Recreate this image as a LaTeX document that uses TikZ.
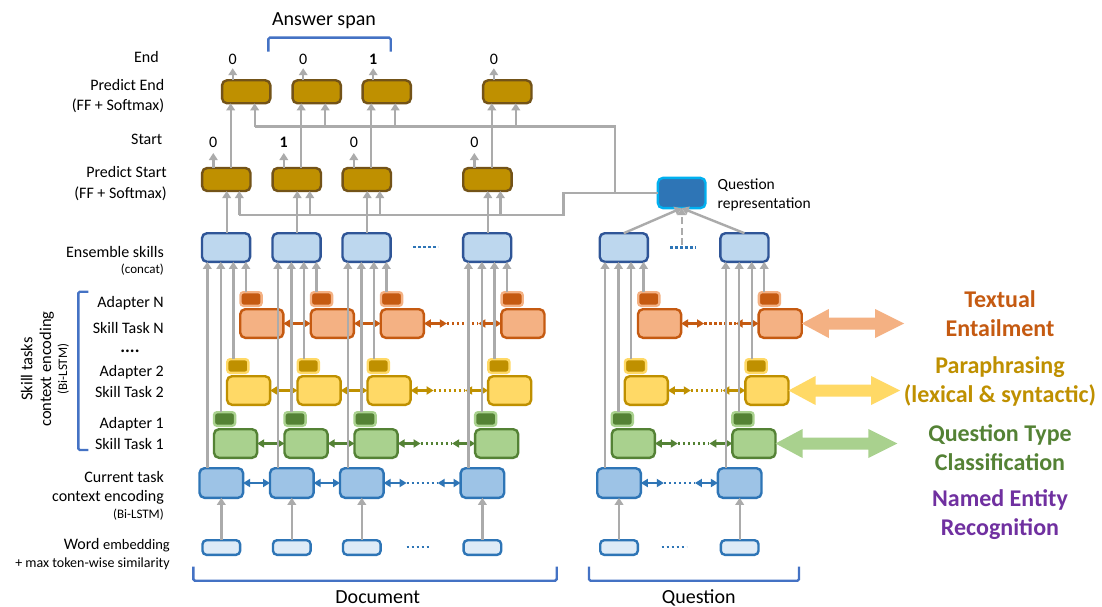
\documentclass[tikz,border=0pt]{standalone}
\usepackage{fontspec}
\setmainfont{Carlito}
\usetikzlibrary{arrows.meta,calc}

\definecolor{lineg}{HTML}{ABABAB}
\definecolor{curF}{HTML}{9DC3E6}
\definecolor{curD}{HTML}{2E75B6}
\definecolor{ensF}{HTML}{BDD7EE}
\definecolor{ensD}{HTML}{2F5597}
\definecolor{embF}{HTML}{DEEBF7}
\definecolor{grnF}{HTML}{A9D18E}
\definecolor{grnD}{HTML}{548235}
\definecolor{yelF}{HTML}{FFD966}
\definecolor{yelD}{HTML}{BF9000}
\definecolor{orgF}{HTML}{F4B183}
\definecolor{orgD}{HTML}{C55A11}
\definecolor{prdD}{HTML}{735318}
\definecolor{qrepD}{HTML}{00B0F0}
\definecolor{brkC}{HTML}{4472C4}
\definecolor{purp}{HTML}{7030A0}

\newcommand{\fsz}[2]{\fontsize{#1}{#2}\selectfont}

\begin{document}
\begin{tikzpicture}[x=1pt,y=-1pt,
  cell/.style={draw, rounded corners=5pt, line width=2.4pt, inner sep=0pt, outer sep=0pt},
  curbox/.style={cell, fill=curF, draw=curD, minimum width=43.6pt, minimum height=29.6pt},
  embbox/.style={cell, rounded corners=4pt, fill=embF, draw=curD, minimum width=37.6pt, minimum height=14.6pt},
  grnbox/.style={cell, fill=grnF, draw=grnD, minimum width=43.1pt, minimum height=28.6pt},
  grnad/.style={cell, rounded corners=3pt, fill=grnD, draw=grnF, minimum width=21.1pt, minimum height=13.6pt},
  yelbox/.style={cell, fill=yelF, draw=yelD, minimum width=43.1pt, minimum height=28.6pt},
  yelad/.style={cell, rounded corners=3pt, fill=yelD, draw=yelF, minimum width=21.1pt, minimum height=13.6pt},
  orgbox/.style={cell, fill=orgF, draw=orgD, minimum width=43.1pt, minimum height=28.6pt},
  orgad/.style={cell, rounded corners=3pt, fill=orgD, draw=orgF, minimum width=21.1pt, minimum height=13.6pt},
  ensbox/.style={cell, fill=ensF, draw=ensD, minimum width=48.1pt, minimum height=28.6pt},
  prdbox/.style={cell, fill=yelD, draw=prdD, minimum width=48.3pt, minimum height=23pt},
  qrepbox/.style={cell, fill=curD, draw=qrepD, minimum width=47.6pt, minimum height=30.2pt},
  gline/.style={draw=lineg, line width=2.4pt},
  garr/.style={gline, -{Triangle[length=7pt,width=8.5pt]}},
  darr/.style={line width=2.3pt, {Triangle[length=7pt,width=8pt]}-{Triangle[length=7pt,width=8pt]}},
  dotl/.style={line width=2.3pt, dash pattern=on 2.5pt off 2.5pt},
  bdots/.style={draw=curD, line width=2.4pt, dash pattern=on 2.6pt off 2.4pt},
  bracket/.style={draw=brkC, line width=2.4pt, rounded corners=1.5pt},
  digit/.style={font=\fsz{16}{19}, inner sep=0pt},
  lbl/.style={anchor=east, font=\fsz{16}{19}, inner sep=0pt},
  small/.style={anchor=east, font=\fsz{13}{15}, inner sep=0pt},
  task/.style={font=\fsz{24}{29}\bfseries, align=center, inner sep=0pt},
]
\fill[white] (0,0) rectangle (1102,607);
\useasboundingbox (0,0) rectangle (1102,607);

% ---------- token columns (document d1..d4, question q1..q2) ----------
\foreach \n/\B in {d1/198.3,d2/268.8,d3/338.8,d4/459.4,q1/596,q2/716.7}{
  \node[embbox] (emb-\n) at (\B+23,547.5) {};
  \node[curbox] (cur-\n) at (\B+23,483) {};
  \node[grnbox] (grn-\n) at (\B+37.25,443.5) {};
  \node[grnad]  (grnA-\n) at (\B+26.25,419) {};
  \node[yelbox] (yel-\n) at (\B+50.25,390.5) {};
  \node[yelad]  (yelA-\n) at (\B+39.5,366) {};
  \node[orgbox] (org-\n) at (\B+63.5,323.5) {};
  \node[orgad]  (orgA-\n) at (\B+52.75,299) {};
  \node[ensbox] (ens-\n) at (\B+27.75,247.5) {};
  \coordinate (la-\n) at (\B+9,0);
  \coordinate (lb-\n) at (\B+22.5,0);
  \coordinate (lc-\n) at (\B+35,0);
  \coordinate (ld-\n) at (\B+47.5,0);
}

% ---------- bidirectional links along each encoding row ----------
\foreach \r/\c in {cur/curD,grn/grnD,yel/yelD,org/orgD}{
  \draw[darr,draw=\c] (\r-d1.east) -- (\r-d2.west);
  \draw[darr,draw=\c] (\r-d2.east) -- (\r-d3.west);
  \draw[darr,draw=\c] (\r-d3.east) -- ++(23,0) coordinate (\r-da);
  \draw[darr,draw=\c] ($(\r-d4.west)+(-23,0)$) coordinate (\r-db) -- (\r-d4.west);
  \draw[dotl,draw=\c] (\r-da) -- (\r-db);
  \draw[darr,draw=\c] (\r-q1.east) -- ++(23,0) coordinate (\r-qa);
  \draw[darr,draw=\c] ($(\r-q2.west)+(-23,0)$) coordinate (\r-qb) -- (\r-q2.west);
  \draw[dotl,draw=\c] (\r-qa) -- (\r-qb);
}

% ---------- skill outputs gathered by the ensemble ----------
\foreach \n in {d1,d2,d3,d4,q1,q2}{
  \draw[garr] (emb-\n.north) -- (cur-\n.south);
  \draw[garr] (cur-\n.north -| la-\n) -- (ens-\n.south -| la-\n);
  \draw[garr] (grnA-\n.north -| lb-\n) -- (ens-\n.south -| lb-\n);
  \draw[garr] (yelA-\n.north -| lc-\n) -- (ens-\n.south -| lc-\n);
  \draw[garr] (orgA-\n.north -| ld-\n) -- (ens-\n.south -| ld-\n);
}

% ellipses between columns
\draw[bdots] (413,247) -- (438,247);
\draw[bdots] (670,247.3) -- (696,247.3);
\draw[bdots] (406.7,546.7) -- (430.7,546.7);
\draw[bdots] (661.7,546.7) -- (686.7,546.7);

% ---------- question representation ----------
\node[qrepbox] (qrep) at (681.7,193) {};
\node[anchor=west, align=left, font=\fsz{15.5}{19.3}, inner sep=0pt] (qrepl) at (717.5,194.7) {Question\\representation};
\coordinate (qdots) at (681.7,245);
\draw[garr] (ens-q1.north) -- (qrep.south);
\draw[garr] (ens-q2.north) -- (qrep.south);
\draw[garr, dash pattern=on 7pt off 3.5pt] (qdots) -- (qrep.south);

% ---------- start / end predictors ----------
\foreach \n/\B/\s/\e in {d1/198.3/0/0,d2/268.8/\textbf{1}/0,d3/338.8/0/\textbf{1},d4/459.4/0/0}{
  \node[prdbox] (ps-\n) at (\B+28,179.5) {};
  \node[prdbox] (pe-\n) at (\B+47.9,91.8) {};
  \node[digit, anchor=south] (sl-\n) at (\B+15,147.5) {\s};
  \node[digit, anchor=south] (el-\n) at (\B+34.4,65.2) {\e};
  \coordinate (pa-\n) at (\B+28.4,0);
  \coordinate (pb-\n) at (\B+41,0);
  \coordinate (pc-\n) at (\B+32.4,0);
  \coordinate (pd-\n) at (\B+56.4,0);
}
\coordinate (jS) at (563.3,215);
\coordinate (jE) at (615,126.7);
\draw[gline] (qrep.west) -- (qrep.west -| jS) -- (jS) -- (jS -| pb-d1);
\draw[gline] (qrep.west -| jE) -- (jE) -- (jE -| pd-d1);
\foreach \n in {d1,d2,d3,d4}{
  \draw[garr] (ens-\n.north -| pa-\n) -- (ps-\n.south -| pa-\n);
  \draw[garr] (jS -| pb-\n) -- (ps-\n.south -| pb-\n);
  \draw[garr] (ps-\n.north -| pc-\n) -- (pe-\n.south -| pc-\n);
  \draw[garr] (jE -| pd-\n) -- (pe-\n.south -| pd-\n);
  \draw[garr, shorten >=5.5pt] (ps-\n.north -| sl-\n.south) -- (sl-\n.south);
  \draw[garr, shorten >=3pt] (pe-\n.north -| el-\n.south) -- (el-\n.south);
}

% answer span
\draw[bracket] (268.3,51.7) -- (268.3,37.7) -- (390.7,37.7) -- (390.7,51.7);
\node[font=\fsz{20}{24}, inner sep=0pt] (ansL) at (324,21) {Answer span};

% ---------- row labels ----------
\node[lbl] (lEnd) at (159,56.7) {End};
\node[lbl] (lPE1) at (164.5,85) {Predict End};
\node[lbl] (lPE2) at (164.5,106) {(FF + Softmax)};
\node[lbl] (lSt) at (162.5,139.3) {Start};
\node[lbl] (lPS1) at (167,171.7) {Predict Start};
\node[lbl] (lPS2) at (167,193.3) {(FF + Softmax)};
\node[lbl] (lEns) at (164,251.7) {Ensemble skills};
\node[small] (lCat) at (164,270) {(concat)};
\node[lbl] (lAN) at (164,303.3) {Adapter N};
\node[lbl] (lSN) at (164,327.7) {Skill Task N};
\node[font=\fsz{18}{20}\bfseries, anchor=base, inner sep=0pt] (lDots) at (130,352.5) {....};
\node[lbl] (lA2) at (164,372.7) {Adapter 2};
\node[lbl] (lS2) at (164,391.7) {Skill Task 2};
\node[lbl] (lA1) at (164,424) {Adapter 1};
\node[lbl] (lS1) at (164,444.3) {Skill Task 1};
\node[lbl] (lCur1) at (164,476.7) {Current task};
\node[lbl] (lCur2) at (164,497.3) {context encoding};
\node[small] (lCur3) at (164,515) {(Bi-LSTM)};
\node[lbl] (lW1) at (170,545) {Word {\fsz{14.5}{17}embedding}};
\node[anchor=east, font=\fsz{14}{17}, inner sep=0pt] (lW2) at (170,563.3) {+ max token-wise similarity};

\draw[bracket] (88.3,291.7) -- (78.3,291.7) -- (78.3,450) -- (88.3,450);
\node[rotate=90, font=\fsz{16.5}{19}, inner sep=0pt] (sk1) at (26.7,369) {Skill tasks};
\node[rotate=90, font=\fsz{16.5}{19}, inner sep=0pt] (sk2) at (46.7,369) {context encoding};
\node[rotate=90, font=\fsz{13}{15}, inner sep=0pt] (sk3) at (63.3,369) {(Bi-LSTM)};

% ---------- input groups ----------
\draw[bracket] (193.3,566.7) -- (193.3,580.7) -- (556.7,580.7) -- (556.7,566.7);
\draw[bracket] (589,566.7) -- (589,580.7) -- (799,580.7) -- (799,566.7);
\node[font=\fsz{20}{24}, inner sep=0pt] (docL) at (377.8,597.3) {Document};
\node[font=\fsz{20}{24}, inner sep=0pt] (qL) at (698.8,598.3) {Question};

% ---------- skill tasks on the right ----------
\coordinate (teR) at (904,323.5);
\coordinate (ppR) at (900,390.5);
\coordinate (qtR) at (897.3,443.5);
\foreach \bx/\rt/\c in {org-q2/teR/orgF, yel-q2/ppR/yelF, grn-q2/qtR/grnF}{
  \fill[\c] (\bx.east) -- ++(27,14.5) -- ++(0,-8.5) -- ($(\rt)+(-29,6)$) -- ++(0,8.5)
    -- (\rt) -- ++(-29,-14.5) -- ++(0,8.5) -- ($(\bx.east)+(27,-6)$) -- ++(0,-8.5) -- cycle;
}
\node[task, text=orgD] (teL) at (1000,313.8) {Textual\\Entailment};
\node[task, text=yelD] (ppL) at (1000,381.7) {Paraphrasing\\(lexical \& syntactic)};
\node[task, text=grnD] (qtL) at (1000,448) {Question Type\\Classification};
\node[task, text=purp] (neL) at (1000,514.7) {Named Entity\\Recognition};
\end{tikzpicture}
\end{document}
